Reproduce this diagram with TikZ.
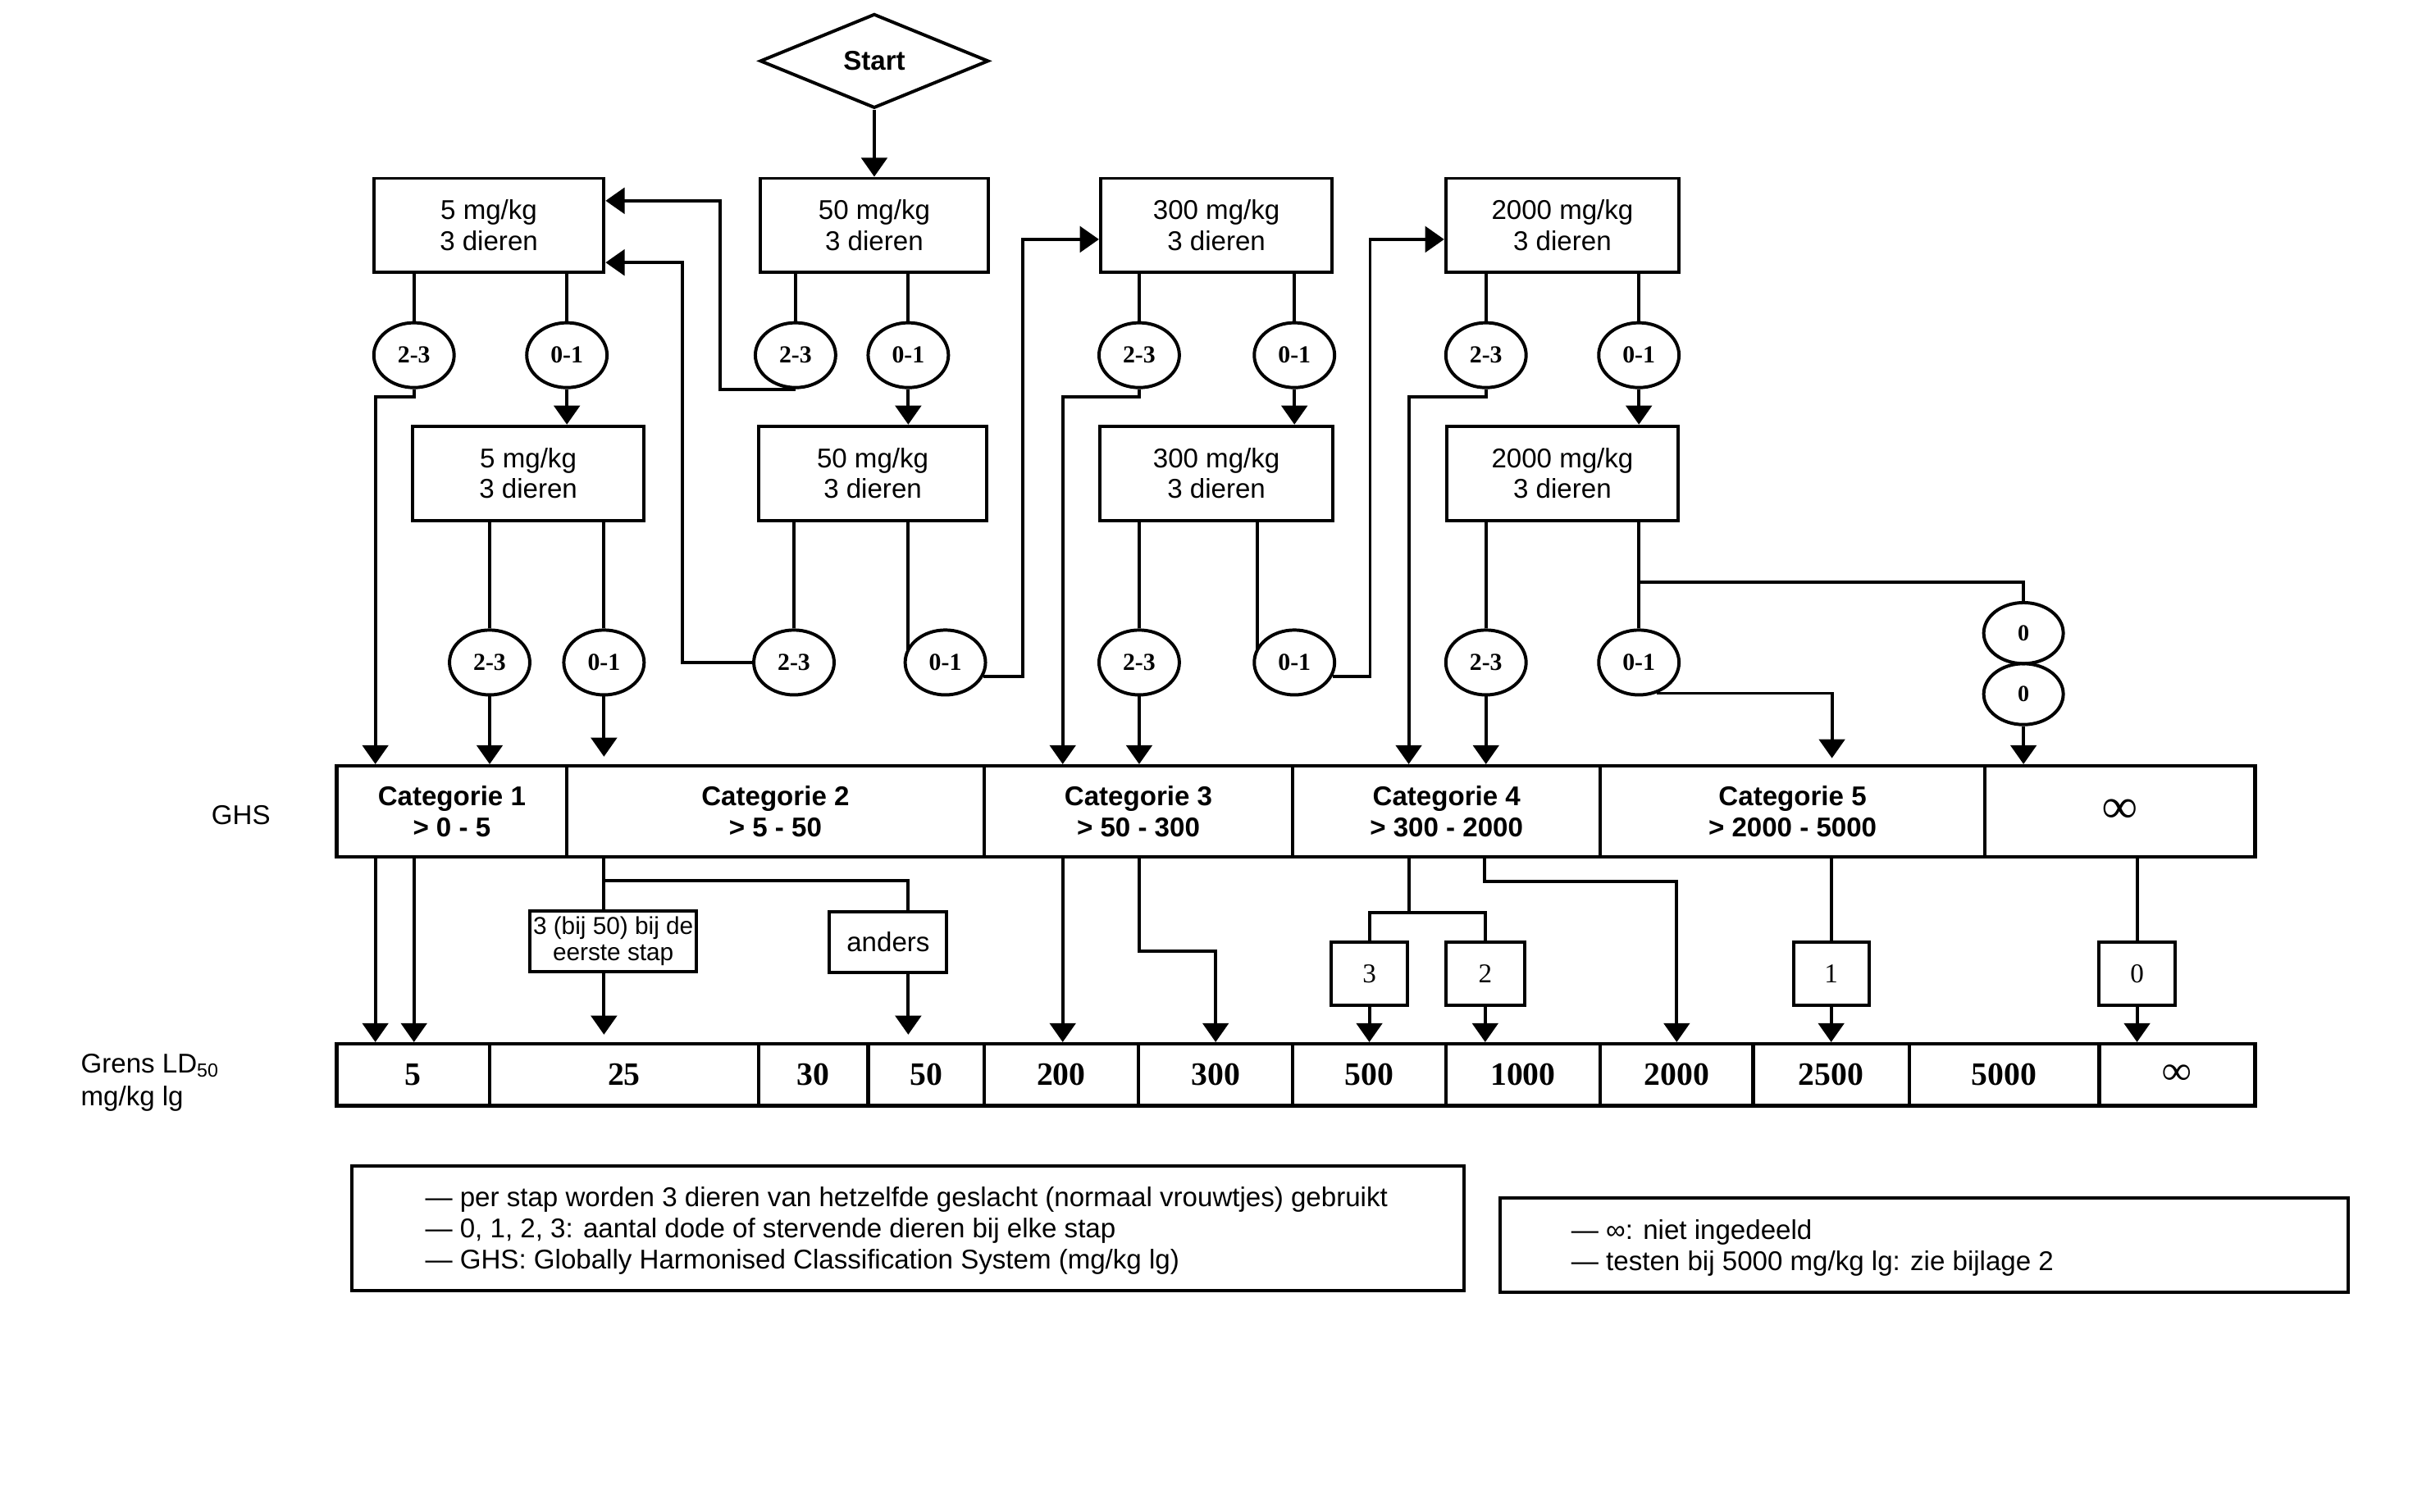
\documentclass[tikz,border=0pt]{standalone}
\usepackage{fontspec}
\setmainfont{Liberation Serif}
\setsansfont{Liberation Sans}
\usetikzlibrary{arrows.meta,shapes.geometric,calc}
\begin{document}
\begin{tikzpicture}[x=0.02cm,y=-0.02cm,
  ln/.style={line width=1.2pt},
  arr/.style={line width=1.2pt,-{Triangle[width=9.5pt,length=7pt]}},
  dbox/.style 2 args={draw,rectangle,line width=1.2pt,inner sep=0pt,minimum width=#1*0.02cm,minimum height=#2*0.02cm,align=center,font=\sffamily\fontsize{10}{11.4}\selectfont},
  catcell/.style 2 args={draw,rectangle,line width=1.3pt,inner sep=0pt,minimum width=#1*0.02cm,minimum height=#2*0.02cm,align=center,font=\sffamily\bfseries\fontsize{10}{11.4}\selectfont},
  gcell/.style 2 args={draw,rectangle,line width=1.3pt,inner sep=0pt,minimum width=#1*0.02cm,minimum height=#2*0.02cm,font=\rmfamily\bfseries\fontsize{12}{14}\selectfont},
  nbox/.style 2 args={draw,rectangle,line width=1.2pt,inner sep=0pt,minimum width=#1*0.02cm,minimum height=#2*0.02cm,font=\rmfamily\fontsize{10}{12}\selectfont},
  circ/.style={draw,ellipse,line width=1.2pt,inner sep=0pt,minimum width=1.04cm,minimum height=0.84cm,font=\rmfamily\bfseries\fontsize{9}{10}\selectfont},
  zcirc/.style={draw,ellipse,line width=1.2pt,inner sep=0pt,minimum width=1.03cm,minimum height=0.79cm,font=\rmfamily\bfseries\fontsize{8.5}{10}\selectfont},
  lbl/.style={inner sep=0pt,font=\sffamily\fontsize{10}{12}\selectfont},
  note/.style={inner sep=0pt,anchor=west,align=left,font=\sffamily\fontsize{10}{11.4}\selectfont}
]
\useasboundingbox (0,0) rectangle (1568,979);

% start
\node[diamond,draw,line width=1.2pt,aspect=2.43,minimum width=2.96cm,minimum height=1.22cm,inner sep=0pt,font=\sffamily\bfseries\fontsize{10}{12}\selectfont] (start) at (566,39.5) {Start};

% row 1 boxes
\node[dbox={149}{61}] (b5a) at (316.5,146) {5 mg/kg\\3 dieren};
\node[dbox={148}{61}] (b50a) at (566,146) {50 mg/kg\\3 dieren};
\node[dbox={150}{61}] (b300a) at (787.5,146) {300 mg/kg\\3 dieren};
\node[dbox={151}{61}] (b2000a) at (1011.5,146) {2000 mg/kg\\3 dieren};

% row 2 boxes
\node[dbox={150}{61}] (b5b) at (342,306.5) {5 mg/kg\\3 dieren};
\node[dbox={148}{61}] (b50b) at (565,306.5) {50 mg/kg\\3 dieren};
\node[dbox={151}{61}] (b300b) at (787.5,306.5) {300 mg/kg\\3 dieren};
\node[dbox={150}{61}] (b2000b) at (1011.5,306.5) {2000 mg/kg\\3 dieren};

% row 1 circles
\node[circ] (c5a23) at (268,230) {2-3};
\node[circ] (c5a01) at (367,230) {0-1};
\node[circ] (c50a23) at (515,230) {2-3};
\node[circ] (c50a01) at (588,230) {0-1};
\node[circ] (c300a23) at (737.5,230) {2-3};
\node[circ] (c300a01) at (838,230) {0-1};
\node[circ] (c2000a23) at (962,230) {2-3};
\node[circ] (c2000a01) at (1061,230) {0-1};

% row 2 circles
\node[circ] (c5b23) at (317,429) {2-3};
\node[circ] (c5b01) at (391,429) {0-1};
\node[circ] (c50b23) at (514,429) {2-3};
\node[circ] (c50b01) at (612,429) {0-1};
\node[circ] (c300b23) at (737.5,429) {2-3};
\node[circ] (c300b01) at (838,429) {0-1};
\node[circ] (c2000b23) at (962,429) {2-3};
\node[circ] (c2000b01) at (1061,429) {0-1};
\node[zcirc] (c0a) at (1310,410) {0};
\node[zcirc] (c0b) at (1310,449.5) {0};

% GHS categories
\node[lbl] (ghs) at (156,528) {GHS};
\node[catcell={149}{59}] (cat1) at (292.5,525.5) {Categorie 1\\> 0 - 5};
\node[catcell={270}{59}] (cat2) at (502,525.5) {Categorie 2\\> 5 - 50};
\node[catcell={200}{59}] (cat3) at (737,525.5) {Categorie 3\\> 50 - 300};
\node[catcell={199}{59}] (cat4) at (936.5,525.5) {Categorie 4\\> 300 - 2000};
\node[catcell={249}{59}] (cat5) at (1160.5,525.5) {Categorie 5\\> 2000 - 5000};
\node[catcell={175}{59},font=\rmfamily\bfseries\fontsize{18}{20}\selectfont] (cat6) at (1372.5,525.5) {∞};

% intermediate boxes
\node[dbox={108}{39},font=\sffamily\fontsize{9}{9.8}\selectfont] (s3) at (397,609.5) {3 (bij 50) bij de\\eerste stap};
\node[dbox={76}{39}] (sand) at (575,610) {anders};
\node[nbox={49}{41}] (n3) at (886.5,630.5) {3};
\node[nbox={51}{41}] (n2) at (961.5,630.5) {2};
\node[nbox={49}{41}] (n1) at (1185.5,630.5) {1};
\node[nbox={49}{41}] (n0) at (1383.5,630.5) {0};

% LD50 limits
\node[lbl,anchor=west,align=left,font=\sffamily\fontsize{10}{12}\selectfont] (grens) at (52,701) {Grens LD\textsubscript{50}\\mg/kg lg};
\node[gcell={99}{40}] (g5) at (267.5,696) {5};
\node[gcell={174}{40}] (g25) at (404,696) {25};
\node[gcell={71}{40}] (g30) at (526.5,696) {30};
\node[gcell={75}{40}] (g50) at (599.5,696) {50};
\node[gcell={100}{40}] (g200) at (687,696) {200};
\node[gcell={100}{40}] (g300) at (787,696) {300};
\node[gcell={99}{40}] (g500) at (886.5,696) {500};
\node[gcell={100}{40}] (g1000) at (986,696) {1000};
\node[gcell={99}{40}] (g2000) at (1085.5,696) {2000};
\node[gcell={101}{40}] (g2500) at (1185.5,696) {2500};
\node[gcell={123}{40}] (g5000) at (1297.5,696) {5000};
\node[gcell={101}{40},font=\rmfamily\bfseries\fontsize{15}{16}\selectfont] (ginf) at (1409.5,696) {\raisebox{-2pt}{∞}};

% notes
\node[draw,line width=1.2pt,minimum width=720*0.02cm,minimum height=81*0.02cm] (nb1) at (588,795.5) {};
\node[note] (nt1) at (275,797) {— per stap worden 3 dieren van hetzelfde geslacht (normaal vrouwtjes) gebruikt\\— 0, 1, 2, 3: aantal dode of stervende dieren bij elke stap\\— GHS: Globally Harmonised Classification System (mg/kg lg)};
\node[draw,line width=1.2pt,minimum width=549*0.02cm,minimum height=61*0.02cm] (nb2) at (1245.5,806.5) {};
\node[note] (nt2) at (1017,808) {— ∞: niet ingedeeld\\— testen bij 5000 mg/kg lg: zie bijlage 2};

% connectors
\draw[arr] (start.south) -- (b50a.north);

\draw[ln] (b5a.south -| c5a23) -- (c5a23.north);
\draw[ln] (b5a.south -| c5a01) -- (c5a01.north);
\draw[ln] (b50a.south -| c50a23) -- (c50a23.north);
\draw[ln] (b50a.south -| c50a01) -- (c50a01.north);
\draw[ln] (b300a.south -| c300a23) -- (c300a23.north);
\draw[ln] (b300a.south -| c300a01) -- (c300a01.north);
\draw[ln] (b2000a.south -| c2000a23) -- (c2000a23.north);
\draw[ln] (b2000a.south -| c2000a01) -- (c2000a01.north);

\draw[arr] (c5a01.south) -- (b5b.north -| c5a01);
\draw[arr] (c50a01.south) -- (b50b.north -| c50a01);
\draw[arr] (c300a01.south) -- (b300b.north -| c300a01);
\draw[arr] (c2000a01.south) -- (b2000b.north -| c2000a01);

\draw[arr] (c5a23.south) -- ++(0,5) -| (cat1.north -| 243,0);
\draw[arr] (c50a23.south) -| (466,130) -- (b5a.east |- 0,130);
\draw[arr] (c300a23.south) -- ++(0,5) -| (cat3.north -| 688,0);
\draw[arr] (c2000a23.south) -- ++(0,5) -| (cat4.north -| 912,0);

\draw[ln] (b5b.south -| c5b23) -- (c5b23.north);
\draw[ln] (b5b.south -| c5b01) -- (c5b01.north);
\draw[ln] (b50b.south -| c50b23) -- (c50b23.north);
\draw[ln] (b50b.south -| 588,0) -- (588,421);
\draw[ln] (b300b.south -| c300b23) -- (c300b23.north);
\draw[ln] (b300b.south -| 814,0) -- (814,421);
\draw[ln] (b2000b.south -| c2000b23) -- (c2000b23.north);
\draw[ln] (b2000b.south -| c2000b01) -- (c2000b01.north);
\draw[ln] (b2000b.south -| c2000b01) ++(0,39) -| (c0a.north);

\draw[arr] (c5b23.south) -- (cat1.north -| c5b23);
\draw[arr] (c5b01.south) -- (c5b01 |- 0,490);
\draw[arr] (c50b23.west) -| (442,170) -- (b5a.east |- 0,170);
\draw[arr] (c50b01.-20) -| (662,155) -- (b300a.west |- 0,155);
\draw[arr] (c300b23.south) -- (cat3.north -| c300b23);
\draw[arr] (c300b01.-20) -| (887,155) -- (b2000a.west |- 0,155);
\draw[arr] (c2000b23.south) -- (cat4.north -| c2000b23);
\draw[arr] (c2000b01.-60) -| (1186,491);
\draw[arr] (c0b.south) -- (cat6.north -| c0b);

\draw[arr] (cat1.south -| 243,0) -- (g5.north -| 243,0);
\draw[arr] (cat1.south -| 268,0) -- (g5.north -| 268,0);
\draw[ln] (cat2.south -| 391,0) -- (s3.north -| 391,0);
\draw[ln] (cat2.south -| 391,0) ++(0,14) -| (sand.north -| 588,0);
\draw[arr] (s3.south -| 391,0) -- (391,670);
\draw[arr] (sand.south -| 588,0) -- (588,670);
\draw[arr] (cat3.south -| 688,0) -- (g200.north -| 688,0);
\draw[arr] (cat3.south -| 737.5,0) -- (737.5,616) -| (g300.north);
\draw[ln] (cat4.south -| 912,0) -- (912,591);
\draw[ln] (n3.north) |- (912,591) -| (n2.north);
\draw[arr] (n3.south) -- (g500.north -| n3);
\draw[arr] (n2.south) -- (g1000.north -| n2);
\draw[arr] (cat4.south -| 961,0) -- (961,571) -| (g2000.north);
\draw[ln] (cat5.south -| n1) -- (n1.north);
\draw[arr] (n1.south) -- (g2500.north -| n1);
\draw[ln] (cat6.south -| n0) -- (n0.north);
\draw[arr] (n0.south) -- (ginf.north -| n0);
\end{tikzpicture}
\end{document}
